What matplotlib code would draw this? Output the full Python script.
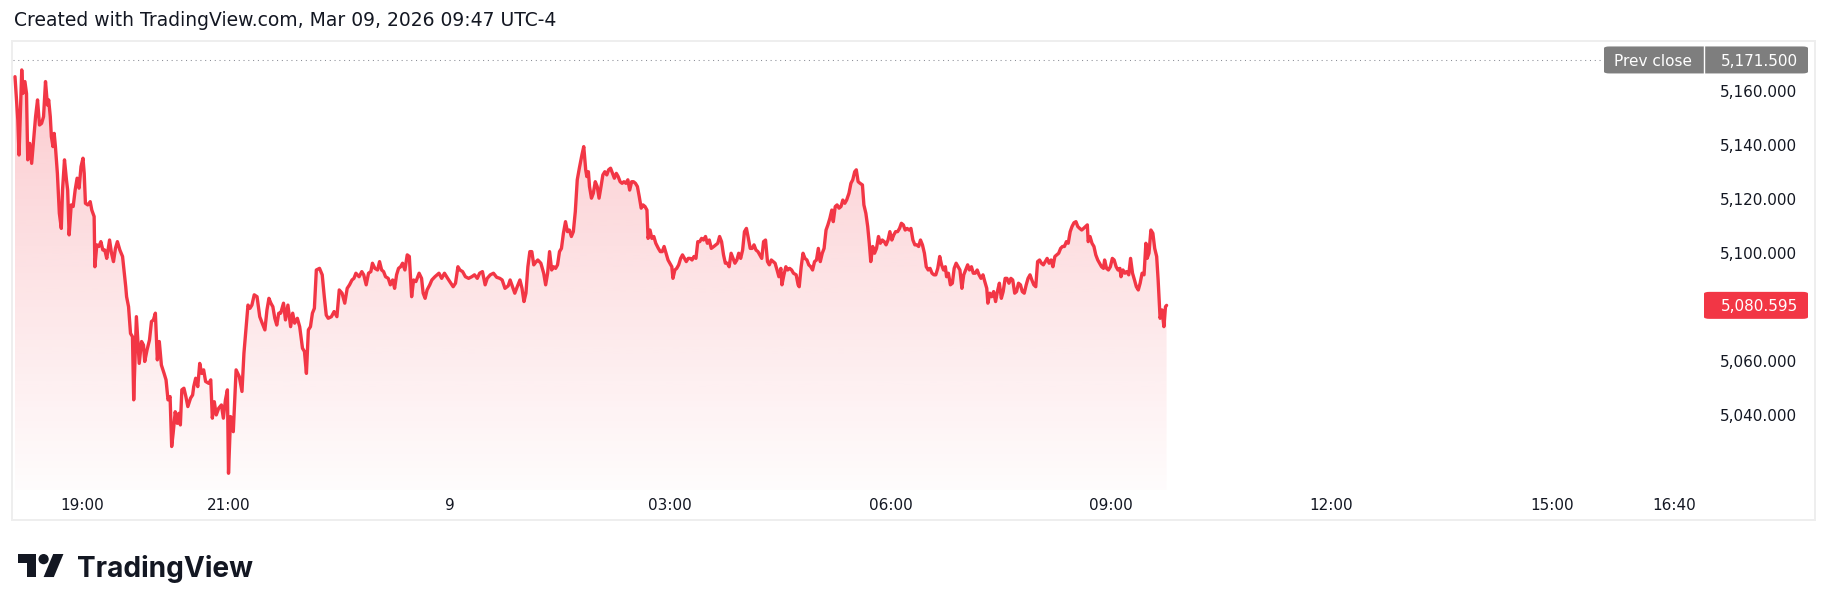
import matplotlib
matplotlib.use("Agg")
import matplotlib.pyplot as plt
import numpy as np
from matplotlib.patches import Rectangle, FancyBboxPatch, Circle, Polygon
from matplotlib.lines import Line2D
from matplotlib.ticker import FuncFormatter, FixedLocator

# ---------------- data ----------------
# minutes since 18:00 (Mar 8) and price
t_min = [
    5.3, 7.6, 8.6, 10.8, 11.8, 13.4, 14.7, 15.7, 17.3, 18.9, 20.5, 22.1, 23.7, 25.3, 27.0, 28.6,
    30.2, 31.8, 32.8, 34.1, 35.0, 36.3, 37.3, 38.3, 39.9, 41.5, 43.1, 44.1, 45.7, 47.3, 48.3, 49.5,
    51.2, 52.8, 54.4, 56.0, 57.6, 59.2, 60.8, 61.8, 62.8, 64.7, 66.7, 68.0, 69.9, 70.5, 72.1, 73.8,
    75.4, 77.0, 78.6, 80.2, 82.5, 84.1, 85.7, 87.3, 88.9, 90.9, 93.1, 95.7, 96.4, 98.0, 99.6, 101.2,
    102.2, 104.4, 106.7, 108.6, 110.2, 111.2, 113.1, 115.1, 116.7, 118.3, 119.9, 121.5, 123.1, 124.8,
    127.0, 128.6, 130.2, 131.9, 133.2, 134.4, 136.1, 137.7, 139.0, 140.3, 141.5, 143.2, 144.8, 146.4,
    148.6, 150.3, 151.2, 152.8, 154.5, 156.1, 157.7, 159.3, 160.9, 163.5, 165.1, 166.4, 168.0, 169.6,
    171.6, 173.8, 175.4, 177.1, 178.7, 179.6, 181.3, 183.5, 185.8, 188.4, 190.6, 192.2, 193.8, 195.5,
    197.1, 198.7, 200.6, 202.9, 205.1, 207.1, 209.3, 211.0, 212.6, 214.2, 215.8, 217.4, 219.0, 220.6,
    222.2, 224.5, 226.1, 228.1, 230.3, 232.0, 233.6, 235.8, 237.7, 240.0, 241.6, 243.2, 244.8, 246.5,
    248.1, 249.7, 251.3, 253.9, 256.1, 257.8, 259.4, 261.0, 263.6, 265.8, 268.1, 270.0, 272.3, 274.5,
    276.5, 278.4, 280.4, 282.0, 283.6, 286.2, 288.4, 290.0, 292.0, 293.9, 295.8, 297.1, 299.1, 301.3,
    302.9, 304.6, 306.2, 307.8, 310.0, 311.7, 313.6, 315.2, 316.8, 318.4, 320.1, 321.7, 323.6, 325.5,
    327.2, 329.1, 330.7, 332.6, 335.2, 337.2, 338.5, 340.1, 341.7, 343.9, 345.6, 348.1, 351.4, 353.6,
    355.9, 358.5, 361.1, 363.0, 364.9, 366.9, 368.5, 370.7, 373.0, 375.6, 378.2, 380.4, 382.7, 384.6,
    386.9, 389.1, 390.8, 393.3, 395.9, 398.5, 401.1, 403.0, 405.3, 407.9, 409.5, 411.4, 413.3, 415.3,
    417.5, 419.2, 420.8, 422.4, 424.0, 425.6, 427.2, 428.8, 430.8, 432.1, 434.6, 436.9, 438.5, 440.1,
    441.7, 443.4, 445.0, 446.6, 448.2, 449.8, 451.4, 453.0, 454.7, 456.3, 457.9, 459.5, 461.1, 462.7,
    464.3, 466.0, 468.1, 469.6, 471.2, 472.1, 473.4, 474.3, 475.9, 477.4, 479.0, 480.6, 482.1, 483.7,
    485.2, 486.8, 488.4, 489.9, 491.5, 493.1, 494.6, 496.2, 497.7, 499.3, 500.9, 502.4, 504.0, 505.6,
    507.1, 508.7, 510.2, 511.8, 513.4, 514.9, 516.5, 518.0, 519.6, 521.2, 522.1, 523.7, 525.2, 526.8,
    528.4, 530.5, 532.1, 533.7, 535.2, 536.8, 538.4, 539.9, 541.5, 542.4, 544.0, 545.5, 547.1, 548.7,
    550.2, 551.8, 553.3, 554.9, 556.5, 558.0, 559.6, 561.2, 562.7, 564.3, 565.8, 567.4, 569.0, 570.5,
    572.1, 573.7, 575.8, 577.4, 579.0, 580.5, 582.1, 583.7, 585.2, 586.8, 588.3, 589.9, 591.5, 593.0,
    594.6, 596.1, 597.7, 599.3, 600.8, 602.4, 604.0, 605.5, 607.1, 608.6, 610.2, 611.8, 613.3, 614.9,
    616.4, 618.0, 619.6, 621.1, 622.7, 624.3, 625.8, 627.4, 628.9, 630.5, 631.4, 633.0, 634.6, 636.1,
    637.7, 639.3, 640.8, 643.0, 644.6, 645.5, 647.1, 648.6, 650.2, 651.8, 653.3, 654.9, 656.4, 658.0,
    659.6, 661.1, 662.7, 664.3, 665.8, 667.4, 668.9, 670.5, 672.1, 673.3, 674.9, 676.4, 678.0, 679.6,
    681.1, 682.7, 684.2, 686.1, 687.7, 689.2, 690.8, 692.1, 693.6, 695.2, 697.1, 698.3, 699.9, 701.4,
    702.7, 703.9, 705.5, 707.0, 708.6, 710.2, 711.7, 713.3, 714.9, 716.4, 718.0, 719.5, 721.1, 722.7,
    724.2, 725.8, 727.4, 728.9, 730.5, 732.0, 733.6, 735.2, 736.7, 738.3, 739.9, 741.4, 743.0, 744.5,
    746.1, 747.7, 749.2, 750.8, 752.3, 753.9, 755.5, 757.0, 758.6, 760.2, 761.7, 763.3, 764.8, 765.8,
    767.3, 768.9, 770.5, 772.0, 773.6, 775.2, 776.7, 778.3, 779.8, 781.4, 783.0, 784.5, 786.1, 787.6,
    789.2, 790.8, 792.3, 793.9, 795.5, 797.0, 798.6, 799.5, 801.1, 802.6, 804.2, 805.8, 807.3, 808.9,
    810.5, 812.0, 813.6, 815.1, 816.7, 818.3, 819.8, 821.4, 822.9, 824.5, 826.1, 827.6, 829.2, 830.8,
    832.3, 833.9, 835.4, 837.0, 838.6, 840.1, 841.7, 843.2, 844.8, 846.4, 847.9, 849.5, 851.1, 852.6,
    854.2, 855.7, 857.3, 858.9, 860.4, 862.0, 863.6, 865.1, 866.7, 868.2, 869.8, 871.4, 872.9, 874.5,
    876.1, 877.6, 879.2, 880.7, 881.4, 882.9, 884.5, 886.1, 887.6, 889.2, 890.7, 892.3, 893.9, 894.8,
    896.4, 897.9, 899.5, 901.1, 902.6, 904.2, 905.7, 907.3, 908.2, 909.8, 911.4, 912.9, 914.5, 916.0,
    917.6, 919.2, 920.7, 922.3, 923.8, 925.4, 927.0, 928.5, 929.5, 931.0, 932.6, 934.2, 935.7, 937.3,
    938.5, 940.1, 941.7, 943.2, 944.5, 945.4,
]
price = [
    5165.3, 5149.3, 5136.3, 5167.8, 5159.1, 5163.5, 5159.1, 5134.5, 5140.6, 5133.2, 5141.9, 5150.5, 5156.7, 5147.4, 5148.0, 5150.5,
    5163.5, 5154.8, 5156.7, 5150.5, 5143.1, 5139.4, 5144.3, 5139.4, 5129.5, 5114.7, 5109.1, 5123.3, 5134.5, 5127.1, 5123.3, 5106.7,
    5117.8, 5117.2, 5123.3, 5127.7, 5124.0, 5132.0, 5135.1, 5129.5, 5118.4, 5117.8, 5119.0, 5115.9, 5113.5, 5094.9, 5103.0, 5102.4,
    5104.2, 5101.1, 5101.1, 5098.0, 5104.8, 5099.9, 5096.8, 5101.7, 5104.2, 5101.1, 5098.7, 5087.5, 5083.8, 5080.1, 5070.2, 5069.0,
    5045.6, 5076.4, 5059.1, 5067.2, 5065.9, 5059.8, 5064.1, 5067.8, 5074.6, 5075.2, 5077.7, 5060.4, 5067.2, 5058.5,
    5055.4, 5053.0, 5045.6, 5046.8, 5028.3, 5033.2, 5041.2, 5036.9, 5040.6, 5036.3, 5049.3, 5049.9, 5046.8, 5043.1,
    5046.2, 5047.4, 5050.5, 5053.6, 5050.5, 5059.1, 5055.4, 5056.7, 5052.4, 5051.7, 5053.0, 5038.8, 5044.9, 5040.0,
    5042.5, 5043.7, 5038.8, 5045.6, 5049.3, 5018.4, 5039.4, 5033.8, 5056.7, 5054.2, 5048.7, 5062.9, 5071.5, 5080.7,
    5079.5, 5080.7, 5084.5, 5083.8, 5076.4, 5074.0, 5071.5, 5078.9, 5083.2, 5081.4, 5080.1, 5075.8, 5073.3, 5077.7,
    5077.7, 5081.4, 5075.2, 5080.7, 5072.7, 5077.7, 5074.0, 5075.8, 5072.7, 5064.7, 5063.5, 5055.4, 5071.5, 5072.7,
    5077.7, 5079.5, 5093.7, 5094.3, 5091.9, 5083.8, 5077.0, 5075.8, 5076.4, 5078.3, 5076.4, 5086.3, 5085.1, 5081.4,
    5086.9, 5088.2, 5090.0, 5090.6, 5092.5, 5091.2, 5093.1, 5091.9, 5088.2, 5092.5, 5093.1, 5096.2, 5094.3, 5093.7,
    5096.8, 5093.7, 5093.1, 5091.2, 5090.6, 5088.2, 5090.0, 5086.9, 5091.9, 5094.3, 5094.9, 5096.2, 5093.7, 5099.3,
    5098.7, 5083.8, 5090.0, 5089.4, 5092.5, 5090.6, 5085.1, 5083.2, 5086.3, 5088.2, 5090.0, 5091.2, 5092.5, 5090.6,
    5092.5, 5090.6, 5088.8, 5087.5, 5088.8, 5094.9, 5093.7, 5093.1, 5091.2, 5090.6, 5091.2, 5091.9, 5090.6, 5092.5,
    5093.1, 5088.2, 5090.6, 5091.9, 5092.5, 5091.0, 5090.6, 5090.0, 5086.9, 5087.8, 5090.0, 5087.5, 5085.1, 5087.5,
    5090.0, 5086.9, 5082.0, 5085.1, 5094.9, 5100.5, 5100.5, 5095.6, 5096.8, 5097.4, 5096.2, 5092.5, 5088.2, 5092.5,
    5100.5, 5093.7, 5094.9, 5094.3, 5095.6, 5100.5, 5101.7, 5107.3, 5111.6, 5107.9, 5108.5, 5106.1, 5107.9, 5115.3,
    5127.1, 5131.4, 5136.3, 5139.4, 5130.8, 5128.3, 5130.1, 5124.6, 5120.3, 5122.1, 5126.4, 5124.6, 5120.3, 5124.6,
    5128.9, 5130.1, 5128.9, 5130.8, 5131.4, 5129.5, 5127.7, 5129.5, 5128.3, 5126.4, 5125.8, 5126.4, 5125.8, 5127.1,
    5123.3, 5126.4, 5126.4, 5125.8, 5124.6, 5120.9, 5116.6, 5117.8, 5117.2, 5115.9, 5105.4, 5108.5, 5105.4, 5106.1,
    5103.6, 5101.7, 5100.5, 5100.5, 5102.4, 5099.9, 5097.4, 5096.2, 5094.9, 5090.6, 5093.7, 5094.3, 5095.6, 5098.0,
    5099.3, 5098.0, 5096.8, 5098.0, 5098.0, 5097.4, 5098.7, 5098.0, 5104.2, 5104.2, 5105.4, 5104.8, 5106.1, 5103.6,
    5104.8, 5101.7, 5102.4, 5103.0, 5103.6, 5106.1, 5104.2, 5099.3, 5096.2, 5096.2, 5094.9, 5099.9, 5098.0, 5096.2,
    5097.4, 5099.9, 5098.0, 5101.1, 5107.9, 5109.1, 5105.4, 5101.7, 5101.7, 5103.0, 5101.1, 5100.5, 5099.3, 5098.0,
    5104.2, 5104.8, 5096.8, 5095.6, 5097.4, 5096.8, 5096.2, 5093.7, 5091.2, 5094.3, 5088.2, 5091.9, 5094.9, 5093.7,
    5094.3, 5093.7, 5092.5, 5091.9, 5088.2, 5087.5, 5094.9, 5099.9, 5098.0, 5097.4, 5095.6, 5094.9, 5093.7, 5096.8,
    5097.4, 5101.7, 5096.8, 5099.9, 5101.7, 5108.5, 5110.4, 5112.8, 5115.9, 5111.6, 5117.2, 5117.8, 5116.6, 5117.2,
    5119.6, 5118.4, 5119.6, 5122.1, 5125.8, 5127.1, 5130.1, 5130.8, 5126.4, 5125.8, 5125.2, 5117.8, 5114.7, 5109.8,
    5103.6, 5096.8, 5102.4, 5099.9, 5101.7, 5106.1, 5103.6, 5104.8, 5104.2, 5103.0, 5104.8, 5107.9, 5104.8, 5106.7,
    5107.9, 5107.9, 5109.1, 5111.0, 5110.4, 5108.5, 5109.1, 5108.5, 5109.1, 5104.8, 5103.0, 5103.0, 5102.4, 5104.8,
    5103.0, 5099.9, 5094.9, 5093.7, 5094.3, 5092.5, 5091.9, 5091.9, 5094.3, 5098.7, 5095.6, 5093.7, 5094.9, 5091.2,
    5092.5, 5088.2, 5088.8, 5094.3, 5096.2, 5094.9, 5093.7, 5086.9, 5091.9, 5093.7, 5095.6, 5093.7, 5094.9, 5092.5,
    5092.5, 5093.7, 5091.9, 5090.6, 5091.9, 5089.4, 5086.9, 5081.4, 5085.1, 5083.8, 5085.7, 5082.0, 5085.7, 5088.8,
    5083.2, 5085.7, 5090.6, 5090.6, 5088.8, 5090.6, 5090.0, 5085.1, 5085.7, 5088.8, 5088.2, 5085.7, 5085.1, 5088.2,
    5090.6, 5091.9, 5090.0, 5088.2, 5087.5, 5096.8, 5097.4, 5096.2, 5095.6, 5096.8, 5098.0, 5096.2, 5097.4, 5094.9,
    5098.7, 5099.3, 5099.9, 5101.7, 5102.4, 5102.4, 5104.2, 5103.6, 5107.9, 5109.8, 5111.2, 5111.6, 5109.8, 5109.1,
    5108.5, 5109.1, 5109.8, 5110.4, 5104.2, 5106.1, 5103.6, 5102.4, 5099.3, 5097.4, 5096.2, 5094.9, 5094.3, 5097.4,
    5094.3, 5093.7, 5094.9, 5098.0, 5097.4, 5094.9, 5093.7, 5094.3, 5091.2, 5093.7, 5092.5, 5093.1, 5091.9, 5098.0,
    5092.5, 5090.0, 5087.5, 5086.3, 5088.8, 5092.5, 5091.9, 5103.6, 5098.0, 5099.9, 5108.5, 5107.3, 5101.7, 5098.7,
    5090.0, 5075.8, 5078.9, 5072.7, 5080.1, 5080.595,
]
prev_close = 5171.5
last_price = 5080.595
price_ticks = [5040, 5060, 5100, 5120, 5140, 5160]
time_tick_min = [60, 180, 360, 540, 720, 900, 1080, 1260, 1360]
time_tick_labels = ["19:00", "21:00", "9", "03:00", "06:00", "09:00", "12:00", "15:00", "16:40"]
header = "Created with TradingView.com, Mar 09, 2026 09:47 UTC-4"

# ---------------- layout ----------------
W, H, DPI = 1830, 611, 100
RED = "#f23645"
TXT = "#131722"
fig = plt.figure(figsize=(W / DPI, H / DPI), dpi=DPI)
fig.patch.set_facecolor("white")
plt.rcParams["font.family"] = ["DejaVu Sans"]


def fx(x):
    return x / W


def fy(y):
    return 1 - y / H


PANE_L, PANE_R, PANE_T, PANE_B = 13, 1703, 42, 490
ax = fig.add_axes([fx(PANE_L), fy(PANE_B), (PANE_R - PANE_L) / W, (PANE_B - PANE_T) / H])
ax.set_facecolor("none")
for s in ax.spines.values():
    s.set_visible(False)

XMIN, XMAX = 3.67, 1383.3
YMIN, YMAX = 5012.2, 5178.15

t = np.array(t_min)
p = np.array(price)

# gradient fill under the line
n = 256
grad = np.zeros((n, 1, 4))
rgb = np.array([242, 54, 69]) / 255.0
grad[:, 0, :3] = rgb
grad[:, 0, 3] = np.linspace(0.015, 0.26, n)
top = p.max()
img = ax.imshow(grad, extent=[XMIN, XMAX, YMIN, top], origin="lower", aspect="auto",
                interpolation="bilinear", zorder=1)
poly = ax.fill_between(t, p, YMIN, color="none", lw=0)
img.set_clip_path(poly.get_paths()[0], ax.transData)

ax.plot(t, p, color=RED, lw=2.4, solid_joinstyle="round", solid_capstyle="round", zorder=3)

# previous close dotted line (ends at the badge)
ax.axhline(prev_close, xmin=0, xmax=(1603 - PANE_L) / (PANE_R - PANE_L), color="#8a8d96",
           lw=0.75, ls=(0, (1, 3.6)), zorder=2)

ax.set_xlim(XMIN, XMAX)
ax.set_ylim(YMIN, YMAX)

# axes ticks
ax.xaxis.set_major_locator(FixedLocator(time_tick_min))
ax.set_xticklabels(time_tick_labels)
ax.tick_params(axis="x", length=0, pad=6, labelsize=11, labelcolor=TXT)
ax.yaxis.tick_right()
ax.yaxis.set_major_locator(FixedLocator(price_ticks))
ax.yaxis.set_major_formatter(FuncFormatter(lambda v, _: f"{v:,.3f}"))
ax.tick_params(axis="y", length=0, pad=(1797 - PANE_R) * 72 / DPI, labelsize=11, labelcolor=TXT)
for lab in ax.get_yticklabels():
    lab.set_horizontalalignment("right")

# frame
fig.patches.append(Rectangle((fx(12), fy(520)), (1815 - 12) / W, (520 - 41) / H,
                             transform=fig.transFigure, fill=False, ec="#eeeeee", lw=1.4))


def ypix(val):
    """pixel y (from top) of a price value"""
    d = ax.transData.transform((XMIN, val))
    return H - d[1]


# prev close badge
yc = ypix(prev_close)
bh = 27
GRAY = "#7e7e7e"
fig.patches.append(FancyBboxPatch((fx(1604), fy(yc + bh / 2)), (1808 - 1604) / W, bh / H,
                                  boxstyle="round,pad=0,rounding_size=0.003",
                                  transform=fig.transFigure, fc=GRAY, ec="none", zorder=5))
fig.lines.append(Line2D([fx(1703.5), fx(1703.5)], [fy(yc + bh / 2), fy(yc - bh / 2)],
                        transform=fig.transFigure, color="white", lw=1.0, zorder=6))
fig.text(fx(1653.5), fy(yc), "Prev close", color="white", fontsize=11, ha="center",
         va="center_baseline", zorder=7)
fig.text(fx(1798), fy(yc), f"{prev_close:,.3f}", color="white", fontsize=11, ha="right",
         va="center_baseline", zorder=7)

# last price badge
yl = ypix(last_price)
fig.patches.append(FancyBboxPatch((fx(1704), fy(yl + bh / 2)), (1808 - 1704) / W, bh / H,
                                  boxstyle="round,pad=0,rounding_size=0.003",
                                  transform=fig.transFigure, fc=RED, ec="none", zorder=5))
fig.text(fx(1798), fy(yl), f"{last_price:,.3f}", color="white", fontsize=11, ha="right",
         va="center_baseline", zorder=7)

# header
hdr = fig.text(fx(14), fy(20), header, color=TXT, fontsize=12, ha="left", va="center")

# TradingView logo
s = 1.28
ox, oy = 18, 554


def L(u, v):
    return (fx(ox + u * s), fy(oy + (v - 4) * s))


logo_col = "#131722"
fig.patches.append(Polygon([L(0, 4), L(14, 4), L(14, 22), L(7, 22), L(7, 11), L(0, 11)],
                           closed=True, transform=fig.transFigure, fc=logo_col, ec="none"))
fig.patches.append(Circle((ox + 20 * s, H - (oy + 4 * s)), 4 * s, transform=None, fc=logo_col, ec="none"))
fig.patches.append(Polygon([L(20, 22), L(28, 22), L(35.5, 4), L(27.5, 4)], closed=True,
                           transform=fig.transFigure, fc=logo_col, ec="none"))
tv = fig.text(fx(77), fy(577), "TradingView", color=logo_col, fontsize=22, fontweight="bold",
              family=["Inter", "DejaVu Sans"], ha="left", va="baseline")

# fit text widths
fig.canvas.draw()
r = fig.canvas.get_renderer()
for txt, target in ((hdr, 553 - 14), (tv, 253 - 77)):
    bb = txt.get_window_extent(r)
    txt.set_fontsize(txt.get_fontsize() * target / bb.width)

fig.savefig("out.png", dpi=DPI, facecolor="white")
